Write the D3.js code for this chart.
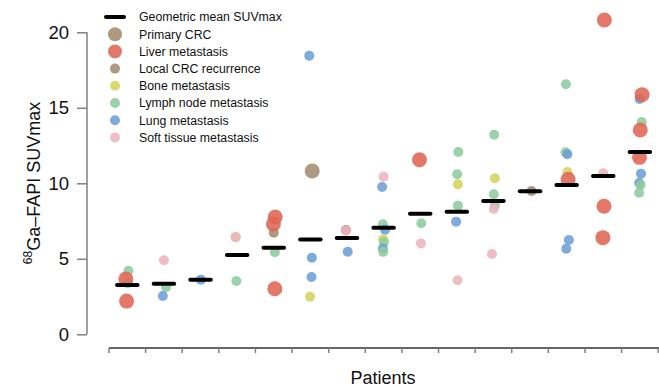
<!DOCTYPE html>
<html lang="en">
<head>
<meta charset="UTF-8">
<title>68Ga-FAPI SUVmax by patient</title>
<style>
    body { margin: 0; background: #fff; }
    svg { display: block; font-family: "Liberation Sans", Arial, sans-serif; }
</style>
</head>
<body>
<svg width="659" height="387"></svg>
<script src="https://d3js.org/d3.v7.min.js"></script>
<script>
// patients, ordered by geometric mean
var patients = [1, 2, 3, 4, 5, 6, 7, 8, 9, 10, 11, 12, 13, 14, 15];
var geoMean = [3.27, 3.35, 3.62, 5.25, 5.74, 6.27, 6.38, 7.05, 7.99, 8.12, 8.83, 9.47, 9.89, 10.48, 12.07];

var siteNames = ["Primary CRC", "Liver metastasis", "Local CRC recurrence", "Bone metastasis",
                 "Lymph node metastasis", "Lung metastasis", "Soft tissue metastasis"];
var siteColors = ["#a38b70", "#df6553", "#a38b70", "#d4d45c", "#8ecc9d", "#6c9fd6", "#edb4be"];
var siteBig = [true, true, false, false, false, false, false];

// one entry per lesion
var pointPatient = [1, 1, 1, 1,
    2, 2, 2,
    3,
    4, 4, 4,
    5, 5, 5, 5, 5,
    6, 6, 6, 6, 6,
    7, 7, 7,
    8, 8, 8, 8, 8, 8, 8, 8,
    9, 9, 9,
    10, 10, 10, 10, 10, 10,
    11, 11, 11, 11, 11, 11,
    12,
    13, 13, 13, 13, 13, 13, 13,
    14, 14, 14, 14,
    15, 15, 15, 15, 15, 15, 15, 15, 15];
var pointSite = ["Lymph node metastasis", "Lymph node metastasis", "Liver metastasis", "Liver metastasis",
    "Soft tissue metastasis", "Lymph node metastasis", "Lung metastasis",
    "Lung metastasis",
    "Bone metastasis", "Soft tissue metastasis", "Lymph node metastasis",
    "Local CRC recurrence", "Liver metastasis", "Liver metastasis", "Lymph node metastasis", "Liver metastasis",
    "Lung metastasis", "Primary CRC", "Lung metastasis", "Lung metastasis", "Bone metastasis",
    "Local CRC recurrence", "Soft tissue metastasis", "Lung metastasis",
    "Soft tissue metastasis", "Lung metastasis", "Lymph node metastasis", "Lung metastasis", "Bone metastasis", "Lymph node metastasis", "Lung metastasis", "Lymph node metastasis",
    "Liver metastasis", "Lymph node metastasis", "Soft tissue metastasis",
    "Lymph node metastasis", "Lymph node metastasis", "Bone metastasis", "Lymph node metastasis", "Lung metastasis", "Soft tissue metastasis",
    "Lymph node metastasis", "Bone metastasis", "Lymph node metastasis", "Lymph node metastasis", "Soft tissue metastasis", "Soft tissue metastasis",
    "Local CRC recurrence",
    "Lymph node metastasis", "Lymph node metastasis", "Lung metastasis", "Bone metastasis", "Liver metastasis", "Lung metastasis", "Lung metastasis",
    "Liver metastasis", "Soft tissue metastasis", "Liver metastasis", "Liver metastasis",
    "Lung metastasis", "Liver metastasis", "Lymph node metastasis", "Liver metastasis", "Liver metastasis", "Lung metastasis", "Lung metastasis", "Lymph node metastasis", "Lymph node metastasis"];
var pointSuv = [4.21, 3.38, 3.66, 2.2,
    4.9, 3.11, 2.54,
    3.62,
    6.45, 6.42, 3.53,
    6.72, 7.77, 7.3, 5.43, 3.02,
    18.45, 10.81, 5.07, 3.79, 2.49,
    6.9, 6.86, 5.47,
    10.44, 9.75, 7.29, 6.92, 6.3, 6.1, 5.68, 5.46,
    11.56, 7.35, 6.02,
    12.07, 10.6, 9.93, 8.52, 7.46, 3.58,
    13.22, 10.33, 9.27, 8.56, 8.3, 5.32,
    9.49,
    16.56, 12.05, 11.92, 10.75, 10.26, 6.25, 5.67,
    20.81, 10.66, 8.48, 6.4,
    15.58, 15.87, 14.06, 13.53, 11.72, 10.64, 10.02, 9.89, 9.38];
// small horizontal offset (fraction of a patient slot)
var pointJitter = [0.03, 0.01, -0.04, -0.02,
    0, 0.06, -0.03,
    0.01,
    -0.04, -0.04, -0.02,
    0, 0.04, -0.01, 0.03, 0.03,
    -0.03, 0.05, 0.04, 0.03, -0.01,
    -0.03, -0.03, 0.02,
    0, -0.04, -0.02, 0.04, -0.01, 0.01, -0.02, -0.01,
    -0.02, 0.03, 0.02,
    0.04, 0.01, 0.03, 0.03, -0.02, 0.02,
    0.02, 0.04, 0.01, 0.04, 0.01, -0.04,
    0.04,
    -0.02, -0.03, 0.02, 0.02, 0.04, 0.06, -0.01,
    0.03, 0, 0.02, -0.01,
    -0.01, 0.06, 0.05, 0.01, -0.01, 0.03, -0.02, 0.02, -0.02];

var yTicks = [0, 5, 10, 15, 20];

var svg = d3.select("svg");

var x = d3.scaleBand().domain(patients).range([109, 658.2]);
var y = d3.scaleLinear().domain([0, 20]).range([334.3, 32.3]);
var color = d3.scaleOrdinal().domain(siteNames).range(siteColors);
var isBig = d3.scaleOrdinal().domain(siteNames).range(siteBig);

// y axis
var yAxis = svg.append("g")
    .attr("transform", "translate(87,0)")
    .call(d3.axisLeft(y).tickValues(yTicks).tickSize(10).tickPadding(8));
yAxis.select(".domain").attr("stroke", "#808080").attr("stroke-width", 1.5)
    .attr("d", "M0," + y(0) + "V" + y(20));
yAxis.selectAll(".tick line").attr("stroke", "#808080").attr("stroke-width", 1.5);
yAxis.selectAll(".tick text").attr("fill", "#111").style("font-size", "18.5px")
    .style("font-family", "'Liberation Sans', Arial, sans-serif");

// x axis: ticks at slot edges
var edges = patients.map(function (p) { return x(p); }).concat([x.range()[1]]);
var xAxisG = svg.append("g").attr("transform", "translate(0,348)");
xAxisG.append("line")
    .attr("x1", edges[0]).attr("x2", 659)
    .attr("stroke", "#333").attr("stroke-width", 1.3);
xAxisG.selectAll(".xtick").data(edges).enter().append("line")
    .attr("class", "xtick")
    .attr("x1", function (d) { return d; }).attr("x2", function (d) { return d; })
    .attr("y1", 0).attr("y2", 5)
    .attr("stroke", "#808080").attr("stroke-width", 1.5);

svg.append("text")
    .attr("x", 383).attr("y", 384)
    .attr("text-anchor", "middle")
    .style("font-size", "18px").attr("fill", "#111")
    .text("Patients");

var yTitle = svg.append("text")
    .attr("transform", "translate(37,183) rotate(-90)")
    .attr("text-anchor", "middle")
    .style("font-size", "18px").attr("fill", "#111");
yTitle.append("tspan").attr("dy", "-0.45em").style("font-size", "12px").text("68");
yTitle.append("tspan").attr("dy", "0.45em").text("Ga\u2013FAPI SUVmax");

// lesion points
var points = pointSuv.map(function (v, i) {
    return { patient: pointPatient[i], site: pointSite[i], suv: v, jit: pointJitter[i] };
});
svg.append("g").selectAll("circle").data(points).enter().append("circle")
    .attr("cx", function (d) { return x(d.patient) + x.bandwidth() * (0.5 + d.jit); })
    .attr("cy", function (d) { return y(d.suv); })
    .attr("r", function (d) { return isBig(d.site) ? 7.5 : 5; })
    .attr("fill", function (d) { return color(d.site); })
    .attr("fill-opacity", 0.88);

// geometric mean bars
svg.append("g").selectAll("line").data(patients).enter().append("line")
    .attr("x1", function (d) { return x(d) + x.bandwidth() * 0.22; })
    .attr("x2", function (d) { return x(d) + x.bandwidth() * 0.78; })
    .attr("y1", function (d, i) { return y(geoMean[i]); })
    .attr("y2", function (d, i) { return y(geoMean[i]); })
    .attr("stroke", "#000").attr("stroke-width", 4).attr("stroke-linecap", "round");

// legend
var legend = svg.append("g").attr("transform", "translate(115,17)");
legend.append("line").attr("x1", -9).attr("x2", 9)
    .attr("stroke", "#000").attr("stroke-width", 4).attr("stroke-linecap", "round");
legend.append("text").attr("x", 24).attr("dy", "0.35em")
    .style("font-size", "12.3px").attr("fill", "#111").text("Geometric mean SUVmax");
var items = legend.selectAll(".legend-item").data(siteNames).enter().append("g")
    .attr("class", "legend-item")
    .attr("transform", function (d, i) { return "translate(0," + (i + 1) * 17.2 + ")"; });
items.append("circle")
    .attr("r", function (d) { return isBig(d) ? 7 : 5; })
    .attr("fill", function (d) { return color(d); })
    .attr("fill-opacity", 0.88);
items.append("text").attr("x", 24).attr("dy", "0.35em")
    .style("font-size", "12.3px").attr("fill", "#111")
    .text(function (d) { return d; });
</script>
</body>
</html>
